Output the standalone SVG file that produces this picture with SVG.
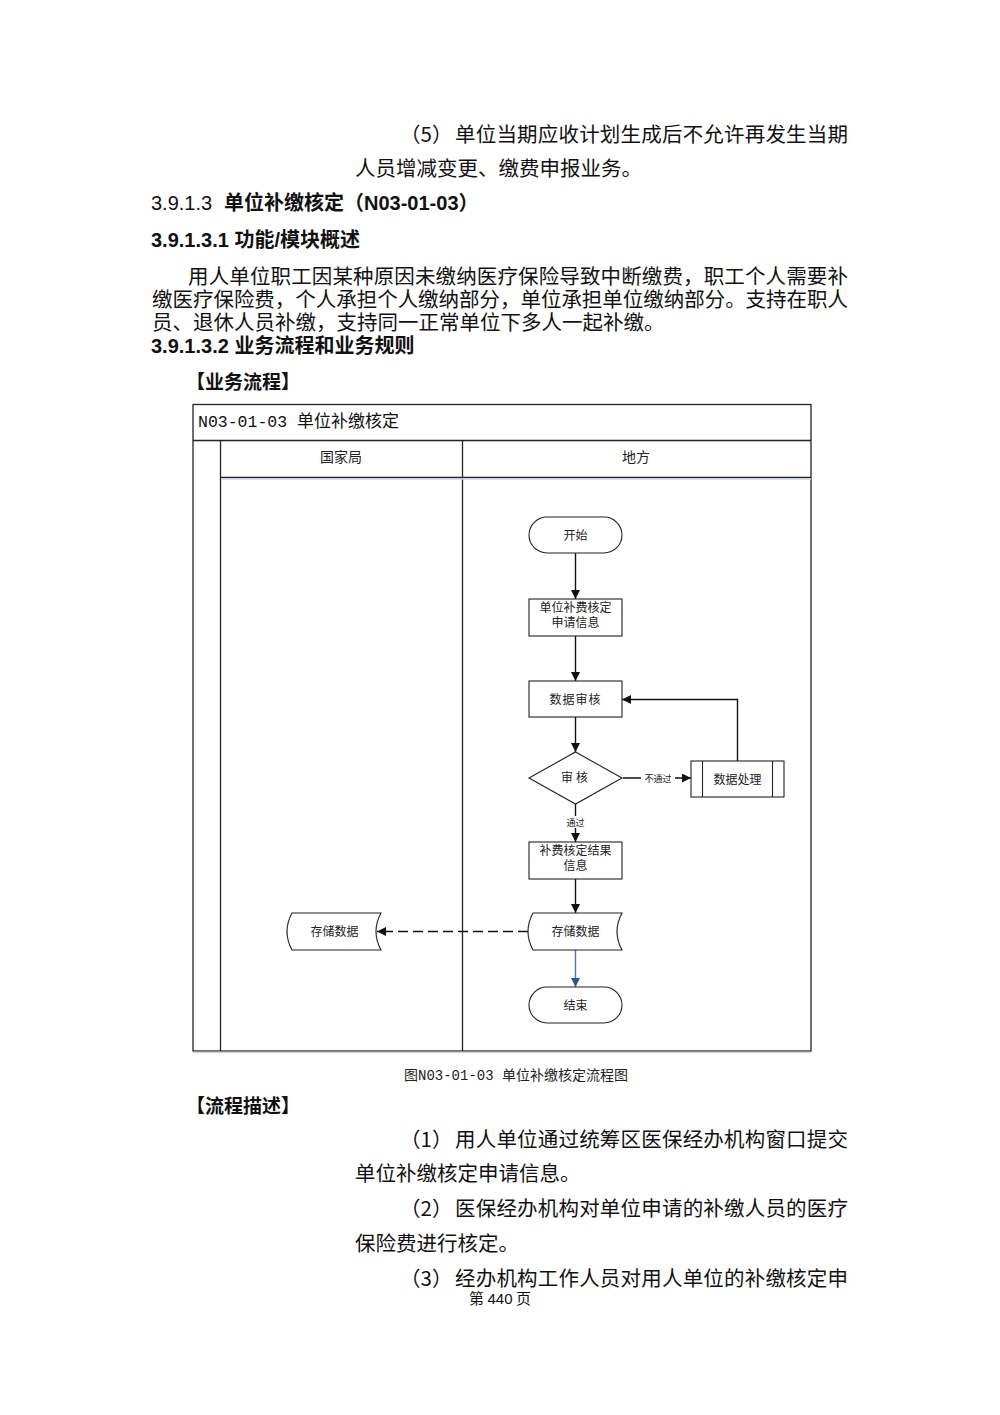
<svg xmlns="http://www.w3.org/2000/svg" width="1000" height="1415" viewBox="0 0 1000 1415">
<style>
.body{font-family:"Noto Sans CJK SC","Liberation Serif",serif;font-size:20.5px;fill:#111}
.h{font-family:"Liberation Sans","Noto Sans CJK SC",sans-serif;font-size:20px;fill:#111}
.b{font-weight:bold}
.frame{fill:none;stroke:#222;stroke-width:1.3}
.shape{fill:#fff;stroke:#222;stroke-width:1.1}
.nt{font-family:"Noto Sans CJK SC",sans-serif;font-size:12px;fill:#222;text-anchor:middle}
.lane{font-family:"Noto Sans CJK SC",sans-serif;font-size:14px;fill:#222;text-anchor:middle}
.conn{fill:none;stroke:#111;stroke-width:1.4}
.lbl{font-family:"Noto Sans CJK SC",sans-serif;font-size:9px;fill:#222;text-anchor:middle}
</style>
<defs>
<marker id="arr" viewBox="0 0 10 10" refX="10" refY="5" markerWidth="9" markerHeight="9" markerUnits="userSpaceOnUse" orient="auto"><path d="M0,0 L10,5 L0,10 z" fill="#111"/></marker>
<marker id="arrb" viewBox="0 0 10 10" refX="10" refY="5" markerWidth="9" markerHeight="9" markerUnits="userSpaceOnUse" orient="auto"><path d="M0,0 L10,5 L0,10 z" fill="#2f5597"/></marker>
</defs>
<rect width="1000" height="1415" fill="#fff"/>

<!-- page text -->
<text class="body" x="400" y="141.5">（5）</text>
<text class="body" x="455" y="141.5" textLength="393" lengthAdjust="spacing">单位当期应收计划生成后不允许再发生当期</text>
<text class="body" x="355" y="175.5">人员增减变更、缴费申报业务。</text>
<text class="h" x="151" y="210">3.9.1.3<tspan class="b" x="224">单位补缴核定（N03-01-03）</tspan></text>
<text class="h b" x="151" y="247">3.9.1.3.1 功能/模块概述</text>
<text class="body" x="188" y="283.5" textLength="660" lengthAdjust="spacing">用人单位职工因某种原因未缴纳医疗保险导致中断缴费，职工个人需要补</text>
<text class="body" x="152" y="306.5" textLength="696" lengthAdjust="spacing">缴医疗保险费，个人承担个人缴纳部分，单位承担单位缴纳部分。支持在职人</text>
<text class="body" x="152" y="329.5">员、退休人员补缴，支持同一正常单位下多人一起补缴。</text>
<text class="h b" x="151" y="353">3.9.1.3.2 业务流程和业务规则</text>
<text class="h b" x="186" y="389" style="font-size:19px">【业务流程】</text>

<!-- diagram frame -->
<g id="frame">
<rect class="frame" x="193" y="404.5" width="618" height="646.5"/>
<line class="frame" x1="193" y1="440.5" x2="811" y2="440.5"/>
<line class="frame" x1="220.5" y1="440.5" x2="220.5" y2="1051"/>
<line class="frame" x1="462.5" y1="440.5" x2="462.5" y2="1051"/>
<line class="frame" x1="220.5" y1="477.5" x2="811" y2="477.5"/>
<line x1="221" y1="479" x2="811" y2="479" stroke="#c9d6ea" stroke-width="1.5"/>
<line x1="193" y1="1052.5" x2="811" y2="1052.5" stroke="#c9d6ea" stroke-width="1.5"/>
<text x="198" y="427" style="font-family:'Liberation Mono','Noto Sans CJK SC',monospace;font-size:16.5px;fill:#111">N03-01-03 <tspan style="font-family:'Noto Sans CJK SC',sans-serif;font-size:17px">单位补缴核定</tspan></text>
<text class="lane" x="341" y="462">国家局</text>
<text class="lane" x="636" y="462">地方</text>
</g>

<!-- connectors -->
<g id="connectors">
<line class="conn" x1="575.5" y1="553" x2="575.5" y2="599" marker-end="url(#arr)"/>
<line class="conn" x1="575.5" y1="636" x2="575.5" y2="681" marker-end="url(#arr)"/>
<line class="conn" x1="575.5" y1="717" x2="575.5" y2="752" marker-end="url(#arr)"/>
<line class="conn" x1="575.5" y1="804" x2="575.5" y2="842" marker-end="url(#arr)"/>
<line class="conn" x1="575.5" y1="879" x2="575.5" y2="913" marker-end="url(#arr)"/>
<line x1="575.5" y1="950" x2="575.5" y2="987" stroke="#4472c4" stroke-width="1.4" marker-end="url(#arrb)"/>
<line class="conn" x1="623" y1="778" x2="691" y2="778" marker-end="url(#arr)"/>
<polyline class="conn" points="737.5,761 737.5,699.5 622,699.5" marker-end="url(#arr)"/>
<line class="conn" x1="528" y1="931.5" x2="377" y2="931.5" stroke-dasharray="10,5" marker-end="url(#arr)"/>
<rect x="641" y="772" width="34" height="12" fill="#fff"/>
<text class="lbl" x="658" y="781.5">不通过</text>
<rect x="563" y="816" width="25" height="12" fill="#fff"/>
<text class="lbl" x="575.5" y="825.5">通过</text>
</g>

<!-- nodes -->
<g id="start">
<rect class="shape" x="529" y="517" width="93" height="36" rx="18"/>
<text class="nt" x="575.5" y="539.5">开始</text>
</g>
<g id="apply">
<rect class="shape" x="529" y="599" width="93" height="37"/>
<text class="nt" x="575.5" y="612">单位补费核定</text>
<text class="nt" x="575.5" y="627">申请信息</text>
</g>
<g id="review">
<rect class="shape" x="529" y="681" width="93" height="36"/>
<text class="nt" x="575.5" y="703.5" letter-spacing="1">数据审核</text>
</g>
<g id="decision">
<polygon class="shape" points="575.5,752 622,778 575.5,804 529,778"/>
<text class="nt" x="576" y="781.5" letter-spacing="3">审核</text>
</g>
<g id="process">
<rect class="shape" x="691" y="761" width="93" height="36"/>
<line class="shape" x1="702.5" y1="761" x2="702.5" y2="797"/>
<line class="shape" x1="772.5" y1="761" x2="772.5" y2="797"/>
<text class="nt" x="737.5" y="783.5">数据处理</text>
</g>
<g id="result">
<rect class="shape" x="529" y="842" width="93" height="37"/>
<text class="nt" x="575.5" y="855">补费核定结果</text>
<text class="nt" x="575.5" y="870">信息</text>
</g>
<g id="store-local">
<path class="shape" d="M533,913 L622,913 Q612,931.5 622,950 L533,950 Q523,931.5 533,913 Z"/>
<text class="nt" x="575.5" y="936">存储数据</text>
</g>
<g id="store-national">
<path class="shape" d="M292,913 L381,913 Q371,931.5 381,950 L292,950 Q282,931.5 292,913 Z"/>
<text class="nt" x="334.5" y="936">存储数据</text>
</g>
<g id="end">
<rect class="shape" x="529" y="987" width="93" height="36" rx="18"/>
<text class="nt" x="575.5" y="1009.5">结束</text>
</g>

<text x="516" y="1080" text-anchor="middle" style="font-family:'Noto Sans CJK SC',sans-serif;font-size:14px;fill:#222">图<tspan style="font-family:'Liberation Mono',monospace">N03-01-03 </tspan>单位补缴核定流程图</text>

<text class="h b" x="186" y="1113" style="font-size:19px">【流程描述】</text>
<text class="body" x="400" y="1146.5">（1）</text>
<text class="body" x="455" y="1146.5" textLength="393" lengthAdjust="spacing">用人单位通过统筹区医保经办机构窗口提交</text>
<text class="body" x="355" y="1180.5">单位补缴核定申请信息。</text>
<text class="body" x="400" y="1215.5">（2）</text>
<text class="body" x="455" y="1215.5" textLength="393" lengthAdjust="spacing">医保经办机构对单位申请的补缴人员的医疗</text>
<text class="body" x="355" y="1250.5">保险费进行核定。</text>
<text class="body" x="400" y="1285.5">（3）</text>
<text class="body" x="455" y="1285.5" textLength="393" lengthAdjust="spacing">经办机构工作人员对用人单位的补缴核定申</text>
<text x="500" y="1304" text-anchor="middle" style="font-family:'Noto Sans CJK SC',sans-serif;font-size:15px;fill:#111">第 <tspan style="font-family:'Liberation Sans',sans-serif">440</tspan> 页</text>
</svg>
